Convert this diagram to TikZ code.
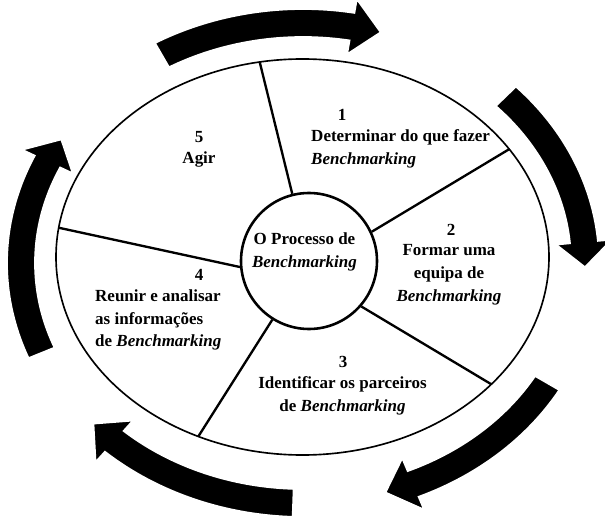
\documentclass[tikz,border=0pt]{standalone}
\usepackage{fontspec}
\setmainfont{Liberation Serif}

\tikzset{
  txt/.style={font=\fontsize{14.5}{19.5}\selectfont\bfseries, inner sep=0pt},
  spoke/.style={line width=2pt},
  turn/.style={fill=black, draw=white, line width=1.5pt},
}
\newcommand{\bmk}{\textit{Benchmarking}}

\begin{document}
\begin{tikzpicture}[x=0.03cm, y=0.03cm]
  \useasboundingbox (0,0) rectangle (605,518);
  \draw[line width=1.4pt] (302.5,261) ellipse [x radius=246.5, y radius=198];
  \node[circle, draw, line width=2.2pt, minimum size=4.08cm] (hub) at (309,257) {};
  \node[txt, align=center] (title) at (304.5,266.5) {O Processo de\\\bmk};

  % spokes
  \foreach \n/\a/\b in {1/100/104, 2/33/25, 3/-40/-41, 4/-115/-122, 5/171.5/185}
  {
    \coordinate (e\n) at ({302.5+246.5*cos(\a)},{261+198*sin(\a)});
    \draw[spoke] (e\n) -- (hub.\b);
  }

  % arrows round the ring
  \foreach \ta/\tb/\tc in {120/80/74, 44/5/-1, -30/-67/-73, -92/-132/-138, 202/155/149}
    \filldraw[turn] plot[domain=\ta:\tb, samples=40] ({303+296*cos(\x)},{255+254*sin(\x)})
      -- ({303+310*cos(\tb)},{255+268*sin(\tb)})
      -- ({303+282*cos(\tc)},{255+240*sin(\tc)})
      -- ({303+254*cos(\tb)},{255+212*sin(\tb)})
      -- plot[domain=\tb:\ta, samples=40] ({303+268*cos(\x)},{255+226*sin(\x)}) -- cycle;

  % labels
  \node[txt] (n1) at (342,403) {1};
  \node[txt, anchor=west, align=left] (s1) at (311,369.5) {Determinar do que fazer\\\bmk};
  \node[txt] (n2) at (451,288) {2};
  \node[txt, align=center] (s2) at (449,243) {Formar uma\\equipa de\\\bmk};
  \node[txt] (n3) at (343,156) {3};
  \node[txt, align=center] (s3) at (342.5,122) {Identificar os parceiros\\de \bmk};
  \node[txt] (n4) at (199,243) {4};
  \node[txt, anchor=west, align=left] (s4) at (95,198) {Reunir e analisar\\as informações\\de \bmk};
  \node[txt] (n5) at (199,381) {5};
  \node[txt] (s5) at (199,359) {Agir};
\end{tikzpicture}
\end{document}
